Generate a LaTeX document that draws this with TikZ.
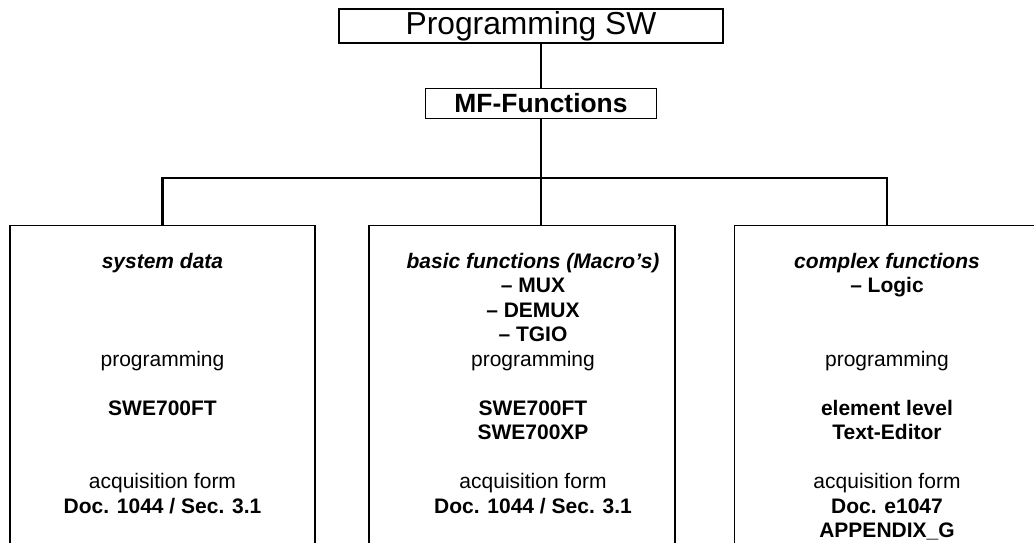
\documentclass[tikz,border=0pt]{standalone}
\usepackage{fontspec}
\setmainfont{Liberation Sans}
\tikzset{
  conn/.style={line width=2.5pt, line cap=rect},
  frame/.style={draw, line width=1.1pt, inner sep=0pt},
  body/.style={anchor=base, inner sep=0pt, font=\fontsize{21}{24.5}\selectfont},
  hdr/.style={body, font=\fontsize{21}{24.5}\selectfont\bfseries\itshape},
  strong/.style={body, font=\fontsize{21}{24.5}\selectfont\bfseries},
}
% baseline of text row k inside the lower boxes
\newcommand{\rowy}[1]{-268pt-24.5pt*#1}
\begin{document}
\begin{tikzpicture}[x=1pt,y=1pt]
\useasboundingbox (0,0) rectangle (1034,-542);
\clip (0,0) rectangle (1034,-542);

% top level boxes
\node[frame, minimum width=384pt, minimum height=34pt,
      font=\fontsize{31.8}{34}\selectfont] (sw) at (531,-26) {Programming SW};
\node[frame, minimum width=231pt, minimum height=30pt,
      font=\fontsize{26.4}{28}\selectfont\bfseries] (mf) at (541,-103.5) {MF-Functions};

% three branch boxes (open towards the bottom edge)
\node[frame, anchor=north, minimum width=305pt, minimum height=340pt] (sysbox) at (162.5,-225) {};
\node[frame, anchor=north, minimum width=306pt, minimum height=340pt] (basicbox) at (522,-225) {};
\node[frame, anchor=north, minimum width=305pt, minimum height=340pt] (cplxbox) at (887,-225) {};

% connectors
\coordinate (busW) at (162.5,-178);
\coordinate (busE) at (887,-178);
\draw[conn] (mf.north) -- (mf.north |- sw.south);
\draw[conn] (mf.south) -- (mf.south |- basicbox.north);
\draw[conn] (busW) -- (busE);
\draw[conn] (busW) -- (sysbox.north);
\draw[conn] (busE) -- (cplxbox.north);

% system data
\node[hdr]    (s0)  at (162.5,{\rowy{0}})  {system data};
\node[body]   (s4)  at (162.5,{\rowy{4}})  {programming};
\node[strong] (s6)  at (162.5,{\rowy{6}})  {SWE700FT};
\node[body]   (s9)  at (162.5,{\rowy{9}})  {acquisition form};
\node[strong] (s10) at (162.5,{\rowy{10}}) {Doc. 1044 / Sec. 3.1};

% basic functions
\node[hdr]    (b0)  at (533,{\rowy{0}})  {basic functions (Macro’s)};
\node[strong] (b1)  at (533,{\rowy{1}})  {– MUX};
\node[strong] (b2)  at (533,{\rowy{2}})  {– DEMUX};
\node[strong] (b3)  at (533,{\rowy{3}})  {– TGIO};
\node[body]   (b4)  at (533,{\rowy{4}})  {programming};
\node[strong] (b6)  at (533,{\rowy{6}})  {SWE700FT};
\node[strong] (b7)  at (533,{\rowy{7}})  {SWE700XP};
\node[body]   (b9)  at (533,{\rowy{9}})  {acquisition form};
\node[strong] (b10) at (533,{\rowy{10}}) {Doc. 1044 / Sec. 3.1};

% complex functions
\node[hdr]    (c0)  at (887,{\rowy{0}})  {complex functions};
\node[strong] (c1)  at (887,{\rowy{1}})  {– Logic};
\node[body]   (c4)  at (887,{\rowy{4}})  {programming};
\node[strong] (c6)  at (887,{\rowy{6}})  {element level};
\node[strong] (c7)  at (887,{\rowy{7}})  {Text-Editor};
\node[body]   (c9)  at (887,{\rowy{9}})  {acquisition form};
\node[strong] (c10) at (887,{\rowy{10}}) {Doc. e1047};
\node[strong] (c11) at (887,{\rowy{11}}) {APPENDIX\_G};
\end{tikzpicture}
\end{document}
